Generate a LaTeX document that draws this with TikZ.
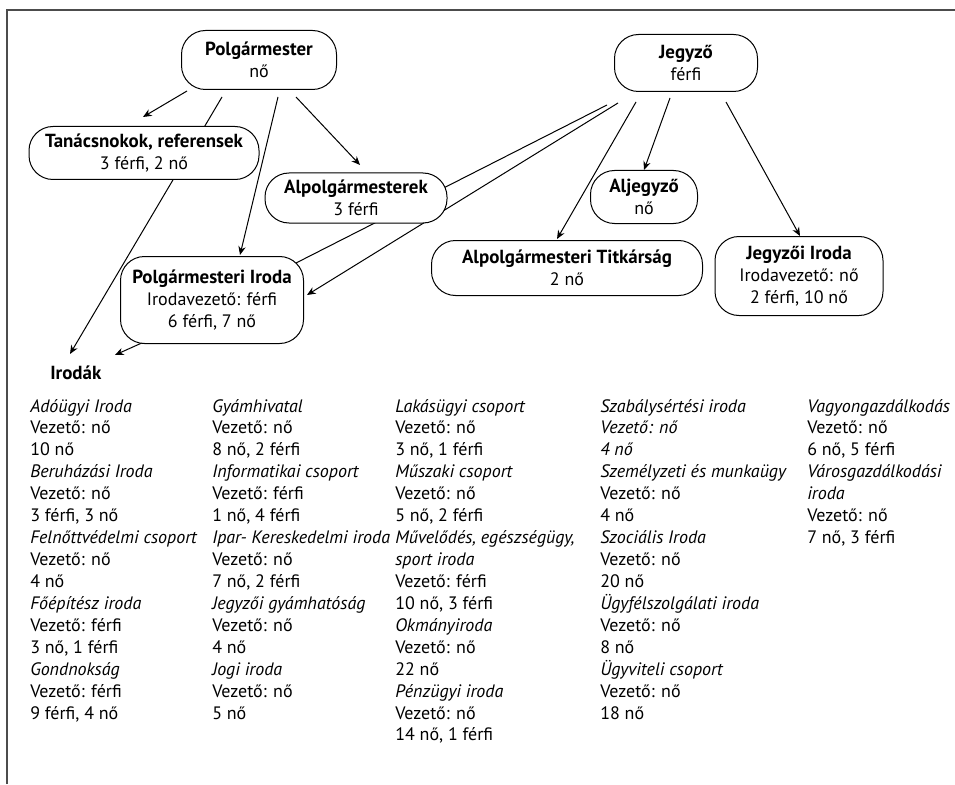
\documentclass[tikz,border=0pt]{standalone}
\usepackage{fontspec}
\setmainfont{PT Sans}
\usetikzlibrary{arrows.meta,backgrounds}
\newcommand\boxtitle[1]{{\fontsize{14.2}{16.4}\selectfont\bfseries #1}}
\begin{document}
\begin{tikzpicture}[x=0.75pt,y=-0.75pt,
  every node/.style={font=\fontsize{13.5}{16.4}\selectfont},
  box/.style={draw, line width=0.75pt, rounded corners=18pt, fill=white, align=center, inner sep=0pt},
  arr/.style={line width=0.75pt, -{Stealth[length=6.5pt,width=5.5pt]}},
  ln/.style={line width=0.75pt},
  listtxt/.style={anchor=base west, inner sep=0pt},
  frame/.style={draw=black!70, line width=1.2pt}]
\useasboundingbox (0,0) rectangle (955,784);
\draw[frame] (7,784) -- (7,10) -- (955,10);

\node[box, minimum width=116.25pt, minimum height=44.25pt] (pm) at (259,60) {\boxtitle{Polgármester}\\nő};
\node[box, minimum width=107.25pt, minimum height=42.75pt] (jg) at (686,63) {\boxtitle{Jegyző}\\férfi};
\node[box, minimum width=172.5pt, minimum height=39.75pt] (tan) at (144,153) {\boxtitle{Tanácsnokok, referensek}\\3 férfi, 2 nő};
\node[box, minimum width=136.5pt, minimum height=37.5pt] (alp) at (356,198) {\boxtitle{Alpolgármesterek}\\3 férfi};
\node[box, minimum width=137.25pt, minimum height=65.25pt] (pi) at (212,300) {\boxtitle{Polgármesteri Iroda}\\Irodavezető: férfi\\6 férfi, 7 nő};
\node[box, minimum width=80.25pt, minimum height=39.75pt] (alj) at (644,197) {\boxtitle{Aljegyző}\\nő};
\node[box, minimum width=203.25pt, minimum height=41.25pt] (tit) at (567,268) {\boxtitle{Alpolgármesteri Titkárság}\\2 nő};
\node[box, minimum width=126pt, minimum height=59.25pt] (ji) at (799,276) {\boxtitle{Jegyzői Iroda}\\Irodavezető: nő\\2 férfi, 10 nő};
\node[listtxt] (irodak) at (50,379) {\boxtitle{Irodák}};

\begin{pgfonlayer}{background}
\draw[arr] ([shift={(-72,31)}]pm.center) -- ([shift={(-1,-36)}]tan.center);
\draw[arr] ([shift={(-37,37)}]pm.center) -- ([shift={(20,-25)}]irodak.base west);
\draw[arr] ([shift={(19,37)}]pm.center) -- ([shift={(28,-45)}]pi.center);
\draw[arr] ([shift={(37,37)}]pm.center) -- ([shift={(4,-33)}]alp.center);
\draw[arr] ([shift={(-68,42)}]pi.center) -- ([shift={(65,-24)}]irodak.base west);
\draw[ln] ([shift={(-79,42)}]jg.center) -- ([shift={(84,-37)}]pi.center);
\draw[arr] ([shift={(-68,40)}]jg.center) -- ([shift={(95,-5)}]pi.center);
\draw[arr] ([shift={(-50,39)}]jg.center) -- ([shift={(-10,-29)}]tit.center);
\draw[arr] ([shift={(-16,35)}]jg.center) -- ([shift={(0,-27)}]alj.center);
\draw[arr] ([shift={(40,39)}]jg.center) -- ([shift={(1,-40)}]ji.center);
\end{pgfonlayer}

\foreach [count=\i] \t in {{\textit{Adóügyi Iroda}}, {Vezető: nő}, {10 nő},
  {\textit{Beruházási Iroda}}, {Vezető: nő}, {3 férfi, 3 nő},
  {\textit{Felnőttvédelmi csoport}}, {Vezető: nő}, {4 nő},
  {\textit{Főépítész iroda}}, {Vezető: férfi}, {3 nő, 1 férfi},
  {\textit{Gondnokság}}, {Vezető: férfi}, {9 férfi, 4 nő}}
  \node[listtxt] (ca\i) at (30,{412+(\i-1)*21.93}) {\t};

\foreach [count=\i] \t in {{\textit{Gyámhivatal}}, {Vezető: nő}, {8 nő, 2 férfi},
  {\textit{Informatikai csoport}}, {Vezető: férfi}, {1 nő, 4 férfi},
  {\textit{Ipar- Kereskedelmi iroda}}, {Vezető: nő}, {7 nő, 2 férfi},
  {\textit{Jegyzői gyámhatóság}}, {Vezető: nő}, {4 nő},
  {\textit{Jogi iroda}}, {Vezető: nő}, {5 nő}}
  \node[listtxt] (cb\i) at (212,{412+(\i-1)*21.93}) {\t};

\foreach [count=\i] \t in {{\textit{Lakásügyi csoport}}, {Vezető: nő}, {3 nő, 1 férfi},
  {\textit{Műszaki csoport}}, {Vezető: nő}, {5 nő, 2 férfi},
  {\textit{Művelődés, egészségügy,}}, {\textit{sport iroda}}, {Vezető: férfi}, {10 nő, 3 férfi},
  {\textit{Okmányiroda}}, {Vezető: nő}, {22 nő},
  {\textit{Pénzügyi iroda}}, {Vezető: nő}, {14 nő, 1 férfi}}
  \node[listtxt] (cc\i) at (395,{412+(\i-1)*21.93}) {\t};

\foreach [count=\i] \t in {{\textit{Szabálysértési iroda}}, {\textit{Vezető: nő}}, {\textit{4 nő}},
  {\textit{Személyzeti és munkaügy}}, {Vezető: nő}, {4 nő},
  {\textit{Szociális Iroda}}, {Vezető: nő}, {20 nő},
  {\textit{Ügyfélszolgálati iroda}}, {Vezető: nő}, {8 nő},
  {\textit{Ügyviteli csoport}}, {Vezető: nő}, {18 nő}}
  \node[listtxt] (cd\i) at (600,{412+(\i-1)*21.93}) {\t};

\foreach [count=\i] \t in {{\textit{Vagyongazdálkodás}}, {Vezető: nő}, {6 nő, 5 férfi},
  {\textit{Városgazdálkodási}}, {\textit{iroda}}, {Vezető: nő}, {7 nő, 3 férfi}}
  \node[listtxt] (ce\i) at (807,{412+(\i-1)*21.93}) {\t};
\end{tikzpicture}
\end{document}
